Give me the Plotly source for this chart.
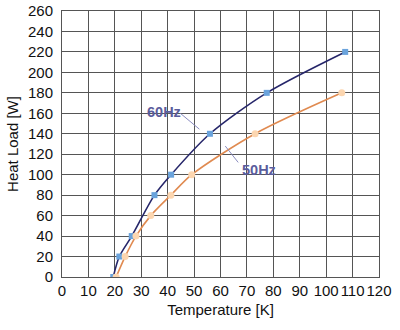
import plotly.graph_objects as go

load_60 = [0, 20, 40, 80, 100, 140, 180, 220]
temp_60 = [19.4, 21.7, 26.4, 35.0, 41.3, 56.0, 77.5, 107.2]

load_50 = [0, 20, 40, 60, 80, 100, 140, 180]
temp_50 = [20.5, 23.9, 28.0, 33.6, 41.2, 49.1, 73.1, 105.9]

x_ticks = list(range(0, 121, 10))
y_ticks = list(range(0, 261, 20))

font_family = "Liberation Sans, Arial, sans-serif"
label_color = "#5a5c9c"

fig = go.Figure()
fig.add_trace(go.Scatter(
    x=temp_60, y=load_60, mode="lines",
    line=dict(color="#26266a", width=1.6, shape="spline", smoothing=0.8),
    hoverinfo="skip", showlegend=False))
fig.add_trace(go.Scatter(
    x=temp_50, y=load_50, mode="lines",
    line=dict(color="#e08a50", width=1.6, shape="spline", smoothing=0.8),
    hoverinfo="skip", showlegend=False))
fig.add_trace(go.Scatter(
    x=temp_60, y=load_60, mode="markers",
    marker=dict(symbol="square", color="#6aa3dc", size=6),
    showlegend=False))
fig.add_trace(go.Scatter(
    x=temp_50, y=load_50, mode="markers",
    marker=dict(symbol="circle", color="#fcd6b0", size=7),
    showlegend=False))

# labels with leader lines
fig.add_annotation(x=38.7, y=161, xref="x", yref="y", text="<b>60Hz</b>",
                   showarrow=False, font=dict(size=14.5, color=label_color, family=font_family))
fig.add_annotation(x=74.5, y=105, xref="x", yref="y", text="<b>50Hz</b>",
                   showarrow=False, font=dict(size=14.5, color=label_color, family=font_family))
fig.add_shape(type="line", x0=44.8, y0=160, x1=52.0, y1=144.5,
              line=dict(color="#8a8cc0", width=1))
fig.add_shape(type="line", x0=61.8, y0=128, x1=66.7, y1=112,
              line=dict(color="#8a8cc0", width=1))

axis_common = dict(
    showgrid=True, gridcolor="#555555", gridwidth=1,
    showline=True, linecolor="#555555", linewidth=1, mirror=True,
    zeroline=False, ticks="", automargin=False, tickangle=0,
    tickfont=dict(size=15, color="#111111", family=font_family),
)

fig.update_layout(
    width=400, height=330,
    margin=dict(l=62, r=21, t=11, b=53),
    paper_bgcolor="white", plot_bgcolor="white",
    font=dict(family=font_family, color="#111111"),
    xaxis=dict(range=[0, 120], tickvals=x_ticks, ticklabelstandoff=0,
               title=dict(text="Temperature [K]", font=dict(size=15), standoff=6),
               **axis_common),
    yaxis=dict(range=[0, 260], tickvals=y_ticks, ticklabelstandoff=5,
               title=dict(text="Heat Load [W]", font=dict(size=15), standoff=5),
               **axis_common),
)

fig.write_html("out.html")
